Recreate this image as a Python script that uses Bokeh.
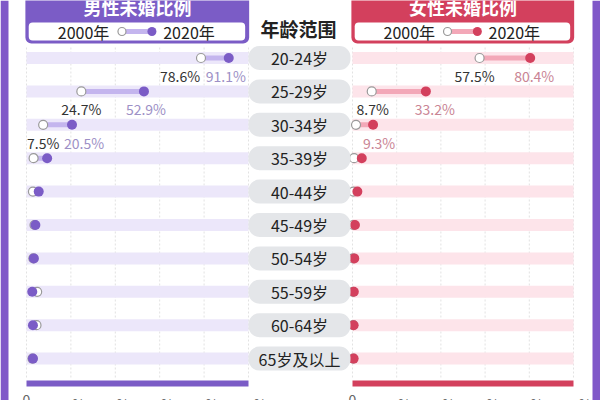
from bokeh.plotting import figure
from bokeh.models import Range1d
from bokeh.embed import file_html
from bokeh.resources import INLINE
from bokeh.core.properties import value

# 数据
ages = ["20-24岁", "25-29岁", "30-34岁", "35-39岁", "40-44岁",
        "45-49岁", "50-54岁", "55-59岁", "60-64岁", "65岁及以上"]
male_2000 = [78.6, 24.7, 7.5, 3.2, 2.9, 3.6, 3.1, 4.8, 4.5, 2.7]
male_2020 = [91.1, 52.9, 20.5, 9.3, 5.5, 4.0, 3.3, 2.6, 2.9, 2.9]
female_2000 = [57.5, 8.7, 1.6, 0.7, 0.4, 0.3, 0.2, 0.2, 0.3, 0.3]
female_2020 = [80.4, 33.2, 9.3, 4.2, 2.2, 1.1, 0.8, 0.6, 0.5, 0.5]
ticks = [0, 20, 40, 60, 80, 100]
tick_labels = ["0", "20%", "40%", "60%", "80%", "100%"]

# 只标注前几行（参考图中显示的）
male_lab_2000 = [0, 1, 2]
male_lab_2020 = [0, 1, 2]
female_lab_2000 = [0, 1]
female_lab_2020 = [0, 1, 2]
# 标签水平微调（像素）
male_off_2000 = [-21, 0, 0]
male_off_2020 = [-3, 2, 12]
female_off_2000 = [-5, 1]
female_off_2020 = [4, 9, 6]

FONT = value("Noto Sans CJK SC")
PURPLE = "#7b5cc6"
RED = "#d3405d"

p = figure(width=600, height=400, x_range=Range1d(0, 600), y_range=Range1d(400, 0),
           output_backend="svg", toolbar_location=None, min_border=0,
           x_axis_location=None, y_axis_location=None)
p.grid.visible = False
p.outline_line_color = None
p.background_fill_color = "white"
p.border_fill_color = "white"

# 像素位置 -> 数据范围
p.extra_x_ranges = {
    "men": Range1d(-26 / 2.22, (600 - 26) / 2.22),
    "women": Range1d(-352 / 2.21, (600 - 352) / 2.21),
}
p.extra_y_ranges = {"rows": Range1d((400 - 57.5) / 33.4, -57.5 / 33.4)}
rows = list(range(len(ages)))

# 两侧竖条
p.quad(left=[0, 592], right=[8, 600], top=[0, 0], bottom=[400, 400],
       fill_color="#8058c8", line_color=None)


def panel(rng, v2000, v2020, lab2000, lab2020, off2000, off2020,
          main, band, line, text2020, title):
    # 表头
    p.quad(left=[-0.5], right=[100.3], top=[-12], bottom=[43], x_range_name=rng,
           fill_color=main, line_color=None, border_radius=6)
    p.quad(left=[1], right=[98.5], top=[22], bottom=[40], x_range_name=rng,
           fill_color="white", line_color=None, border_radius=4)
    p.text(x=[50], y=[6], text=[title], x_range_name=rng, text_font=FONT,
           text_font_size="18px", text_font_style="bold", text_color="white",
           text_align="center", text_baseline="middle")
    # 图例
    p.text(x=[25.7], y=[31], text=["2000年"], x_range_name=rng,
           text_font=FONT, text_font_size="16px", text_color="#222",
           text_align="center", text_baseline="middle")
    p.text(x=[73.2], y=[31], text=["2020年"], x_range_name=rng,
           text_font=FONT, text_font_size="16px", text_color="#222",
           text_align="center", text_baseline="middle")
    p.segment(x0=[43], y0=[31], x1=[56.5], y1=[31], x_range_name=rng,
              line_color=line, line_width=5, line_cap="round")
    p.scatter([43], [31], x_range_name=rng, size=8, fill_color="white",
              line_color="#999", line_width=1.2)
    p.scatter([56.5], [31], x_range_name=rng, size=9, fill_color=main, line_color=None)
    # 网格
    p.segment(x0=ticks, y0=[47] * len(ticks), x1=ticks, y1=[378] * len(ticks),
              x_range_name=rng, line_color="#e2e2e2", line_width=1, line_dash="2 2")
    # 底色条
    p.rect(x=[50] * len(rows), y=rows, width=100, height=12, height_units="screen",
           x_range_name=rng, y_range_name="rows", fill_color=band, line_color=None)
    # 哑铃
    p.segment(x0=v2000, y0=rows, x1=v2020, y1=rows, x_range_name=rng, y_range_name="rows",
              line_color=line, line_width=5, line_cap="round")
    p.scatter(v2000, rows, x_range_name=rng, y_range_name="rows", size=9,
              fill_color="white", line_color="#9a9a9a", line_width=1.2)
    p.scatter(v2020, rows, x_range_name=rng, y_range_name="rows", size=10,
              fill_color=main, line_color=None)
    # 数值标签
    p.text(x=[v2000[i] for i in lab2000], y=lab2000,
           text=[f"{v2000[i]}%" for i in lab2000], x_offset=off2000, y_offset=18,
           x_range_name=rng, y_range_name="rows", text_font=FONT, text_font_size="14px",
           text_color="#333", text_align="center", text_baseline="middle")
    p.text(x=[v2020[i] for i in lab2020], y=lab2020,
           text=[f"{v2020[i]}%" for i in lab2020], x_offset=off2020, y_offset=18,
           x_range_name=rng, y_range_name="rows", text_font=FONT, text_font_size="14px",
           text_color=text2020, text_align="center", text_baseline="middle")
    # 底部横条与刻度
    p.quad(left=[0], right=[100], top=[380], bottom=[386], x_range_name=rng,
           fill_color=main, line_color=None)
    p.text(x=ticks, y=[393] * len(ticks), text=tick_labels, x_range_name=rng,
           text_font=FONT, text_font_size="14px", text_color="#666",
           text_align="center", text_baseline="top")


panel("men", male_2000, male_2020, male_lab_2000, male_lab_2020,
      male_off_2000, male_off_2020, PURPLE, "#ece7fa", "#c4b5ee", "#9d90c6",
      "男性未婚比例")
panel("women", female_2000, female_2020, female_lab_2000, female_lab_2020,
      female_off_2000, female_off_2020, RED, "#fde4ea", "#f3a8b8", "#c98494",
      "女性未婚比例")

# 中间年龄列
p.text(x=[298], y=[28], text=["年龄范围"], text_font=FONT, text_font_size="19px",
       text_font_style="bold", text_color="#222", text_align="center", text_baseline="middle")
p.rect(x=[299] * len(rows), y=rows, width=102, height=24, height_units="screen",
       y_range_name="rows", fill_color="#e4e6e9", line_color=None, border_radius=11)
p.text(x=[299] * len(rows), y=rows, text=ages, y_range_name="rows", text_font=FONT,
       text_font_size="16px", text_color="#222", text_align="center", text_baseline="middle")

open("out.html", "w").write(file_html(p, INLINE))
